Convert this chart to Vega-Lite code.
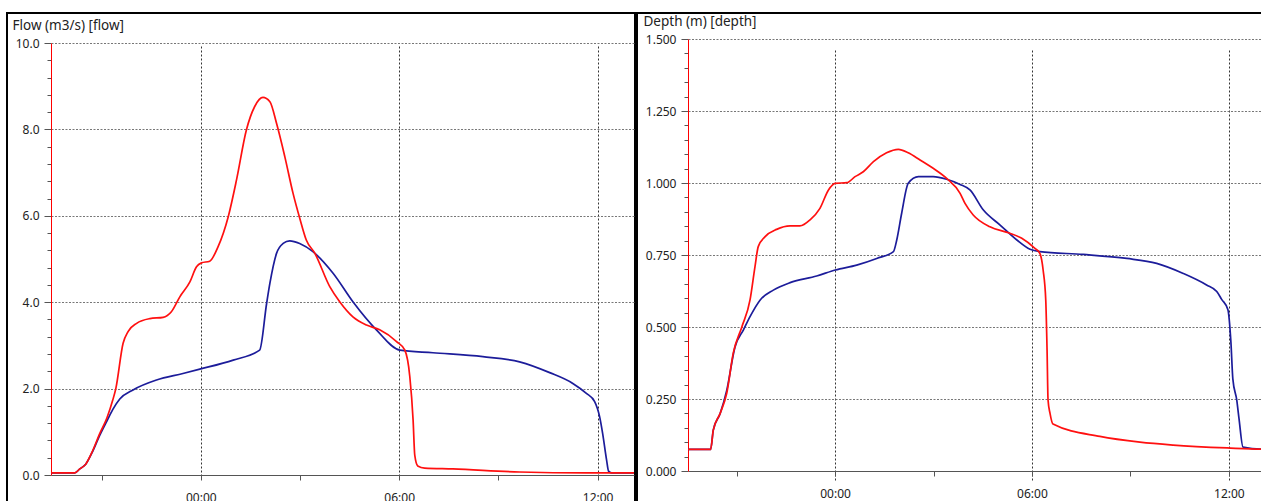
{
  "$schema": "https://vega.github.io/schema/vega-lite/v6.json",
  "padding": {"left": 6, "top": 12, "right": 0, "bottom": 0},
  "background": "white",
  "spacing": 2,
  "bounds": "flush",
  "config": {
    "view": {"stroke": "black", "strokeWidth": 2},
    "axis": {"labelFont": "Noto Sans", "titleFont": "Noto Sans", "labelFontSize": 12, "labelColor": "#222", "titleColor": "#222", "labelOverlap": false, "labelFlush": false}
  },
  "datasets": {
    "flow": [
      {"series": "A", "hour": -4.53, "value": 0.05}, {"series": "A", "hour": -3.81, "value": 0.05}, {"series": "A", "hour": -3.66, "value": 0.14}, {"series": "A", "hour": -3.48, "value": 0.25}, {"series": "A", "hour": -3.3, "value": 0.5}, {"series": "A", "hour": -3.05, "value": 0.93}, {"series": "A", "hour": -2.84, "value": 1.25}, {"series": "A", "hour": -2.66, "value": 1.52}, {"series": "A", "hour": -2.45, "value": 1.76}, {"series": "A", "hour": -2.05, "value": 1.97}, {"series": "A", "hour": -1.34, "value": 2.2}, {"series": "A", "hour": -0.54, "value": 2.35}, {"series": "A", "hour": -0.03, "value": 2.45}, {"series": "A", "hour": 0.98, "value": 2.66}, {"series": "A", "hour": 1.78, "value": 2.89}, {"series": "A", "hour": 1.99, "value": 3.97}, {"series": "A", "hour": 2.09, "value": 4.44}, {"series": "A", "hour": 2.29, "value": 5.13}, {"series": "A", "hour": 2.49, "value": 5.36}, {"series": "A", "hour": 2.69, "value": 5.42}, {"series": "A", "hour": 2.99, "value": 5.36}, {"series": "A", "hour": 3.39, "value": 5.17}, {"series": "A", "hour": 4.0, "value": 4.67}, {"series": "A", "hour": 4.6, "value": 4.01}, {"series": "A", "hour": 5.31, "value": 3.36}, {"series": "A", "hour": 6.02, "value": 2.89}, {"series": "A", "hour": 7.02, "value": 2.83}, {"series": "A", "hour": 8.53, "value": 2.74}, {"series": "A", "hour": 9.64, "value": 2.62}, {"series": "A", "hour": 10.55, "value": 2.37}, {"series": "A", "hour": 11.25, "value": 2.12}, {"series": "A", "hour": 11.66, "value": 1.89}, {"series": "A", "hour": 11.91, "value": 1.7}, {"series": "A", "hour": 12.06, "value": 1.35}, {"series": "A", "hour": 12.15, "value": 0.97}, {"series": "A", "hour": 12.27, "value": 0.35}, {"series": "A", "hour": 12.33, "value": 0.09}, {"series": "A", "hour": 12.42, "value": 0.05}, {"series": "A", "hour": 13.1, "value": 0.05},
      {"series": "B", "hour": -4.53, "value": 0.05}, {"series": "B", "hour": -3.81, "value": 0.05}, {"series": "B", "hour": -3.66, "value": 0.14}, {"series": "B", "hour": -3.48, "value": 0.25}, {"series": "B", "hour": -3.3, "value": 0.51}, {"series": "B", "hour": -3.05, "value": 0.97}, {"series": "B", "hour": -2.84, "value": 1.32}, {"series": "B", "hour": -2.66, "value": 1.74}, {"series": "B", "hour": -2.57, "value": 2.0}, {"series": "B", "hour": -2.35, "value": 3.05}, {"series": "B", "hour": -2.2, "value": 3.32}, {"series": "B", "hour": -1.94, "value": 3.51}, {"series": "B", "hour": -1.54, "value": 3.62}, {"series": "B", "hour": -1.14, "value": 3.65}, {"series": "B", "hour": -0.89, "value": 3.78}, {"series": "B", "hour": -0.63, "value": 4.13}, {"series": "B", "hour": -0.33, "value": 4.47}, {"series": "B", "hour": -0.13, "value": 4.82}, {"series": "B", "hour": 0.02, "value": 4.91}, {"series": "B", "hour": 0.27, "value": 4.95}, {"series": "B", "hour": 0.52, "value": 5.28}, {"series": "B", "hour": 0.83, "value": 5.98}, {"series": "B", "hour": 1.08, "value": 6.83}, {"series": "B", "hour": 1.38, "value": 7.99}, {"series": "B", "hour": 1.63, "value": 8.53}, {"series": "B", "hour": 1.88, "value": 8.74}, {"series": "B", "hour": 2.09, "value": 8.64}, {"series": "B", "hour": 2.29, "value": 8.14}, {"series": "B", "hour": 2.54, "value": 7.37}, {"series": "B", "hour": 2.79, "value": 6.52}, {"series": "B", "hour": 2.99, "value": 5.95}, {"series": "B", "hour": 3.19, "value": 5.44}, {"series": "B", "hour": 3.45, "value": 5.13}, {"series": "B", "hour": 3.9, "value": 4.36}, {"series": "B", "hour": 4.2, "value": 4.01}, {"series": "B", "hour": 4.6, "value": 3.66}, {"series": "B", "hour": 5.01, "value": 3.47}, {"series": "B", "hour": 5.41, "value": 3.36}, {"series": "B", "hour": 5.92, "value": 3.09}, {"series": "B", "hour": 6.17, "value": 2.89}, {"series": "B", "hour": 6.32, "value": 2.28}, {"series": "B", "hour": 6.42, "value": 1.27}, {"series": "B", "hour": 6.47, "value": 0.46}, {"series": "B", "hour": 6.56, "value": 0.21}, {"series": "B", "hour": 6.77, "value": 0.16}, {"series": "B", "hour": 7.62, "value": 0.14}, {"series": "B", "hour": 9.64, "value": 0.07}, {"series": "B", "hour": 11.67, "value": 0.05}, {"series": "B", "hour": 13.1, "value": 0.05}
    ],
    "depth": [
      {"series": "A", "hour": -4.48, "value": 0.075}, {"series": "A", "hour": -3.79, "value": 0.075}, {"series": "A", "hour": -3.71, "value": 0.142}, {"series": "A", "hour": -3.5, "value": 0.2}, {"series": "A", "hour": -3.3, "value": 0.28}, {"series": "A", "hour": -3.05, "value": 0.43}, {"series": "A", "hour": -2.79, "value": 0.49}, {"series": "A", "hour": -2.59, "value": 0.536}, {"series": "A", "hour": -2.28, "value": 0.594}, {"series": "A", "hour": -1.88, "value": 0.628}, {"series": "A", "hour": -1.37, "value": 0.654}, {"series": "A", "hour": -0.56, "value": 0.677}, {"series": "A", "hour": 0.01, "value": 0.698}, {"series": "A", "hour": 0.66, "value": 0.715}, {"series": "A", "hour": 1.27, "value": 0.738}, {"series": "A", "hour": 1.78, "value": 0.762}, {"series": "A", "hour": 1.88, "value": 0.802}, {"series": "A", "hour": 2.03, "value": 0.895}, {"series": "A", "hour": 2.23, "value": 0.999}, {"series": "A", "hour": 2.54, "value": 1.022}, {"series": "A", "hour": 2.99, "value": 1.022}, {"series": "A", "hour": 3.4, "value": 1.013}, {"series": "A", "hour": 3.81, "value": 0.995}, {"series": "A", "hour": 4.11, "value": 0.976}, {"series": "A", "hour": 4.52, "value": 0.906}, {"series": "A", "hour": 5.03, "value": 0.854}, {"series": "A", "hour": 5.54, "value": 0.802}, {"series": "A", "hour": 5.94, "value": 0.77}, {"series": "A", "hour": 6.24, "value": 0.762}, {"series": "A", "hour": 7.56, "value": 0.752}, {"series": "A", "hour": 8.89, "value": 0.738}, {"series": "A", "hour": 9.8, "value": 0.721}, {"series": "A", "hour": 10.61, "value": 0.686}, {"series": "A", "hour": 11.32, "value": 0.646}, {"series": "A", "hour": 11.63, "value": 0.623}, {"series": "A", "hour": 11.78, "value": 0.596}, {"series": "A", "hour": 11.97, "value": 0.56}, {"series": "A", "hour": 12.06, "value": 0.45}, {"series": "A", "hour": 12.12, "value": 0.32}, {"series": "A", "hour": 12.24, "value": 0.246}, {"series": "A", "hour": 12.31, "value": 0.18}, {"series": "A", "hour": 12.43, "value": 0.083}, {"series": "A", "hour": 12.98, "value": 0.076}, {"series": "A", "hour": 13.1, "value": 0.076},
      {"series": "B", "hour": -4.48, "value": 0.075}, {"series": "B", "hour": -3.79, "value": 0.075}, {"series": "B", "hour": -3.71, "value": 0.142}, {"series": "B", "hour": -3.5, "value": 0.2}, {"series": "B", "hour": -3.3, "value": 0.27}, {"series": "B", "hour": -3.1, "value": 0.41}, {"series": "B", "hour": -2.84, "value": 0.5}, {"series": "B", "hour": -2.59, "value": 0.594}, {"series": "B", "hour": -2.44, "value": 0.709}, {"series": "B", "hour": -2.34, "value": 0.779}, {"series": "B", "hour": -2.13, "value": 0.814}, {"series": "B", "hour": -1.78, "value": 0.839}, {"series": "B", "hour": -1.37, "value": 0.851}, {"series": "B", "hour": -1.07, "value": 0.851}, {"series": "B", "hour": -0.76, "value": 0.872}, {"series": "B", "hour": -0.46, "value": 0.912}, {"series": "B", "hour": -0.2, "value": 0.976}, {"series": "B", "hour": 0.0, "value": 0.999}, {"series": "B", "hour": 0.36, "value": 1.001}, {"series": "B", "hour": 0.61, "value": 1.022}, {"series": "B", "hour": 0.86, "value": 1.039}, {"series": "B", "hour": 1.17, "value": 1.074}, {"series": "B", "hour": 1.57, "value": 1.105}, {"series": "B", "hour": 1.93, "value": 1.117}, {"series": "B", "hour": 2.23, "value": 1.105}, {"series": "B", "hour": 2.59, "value": 1.08}, {"series": "B", "hour": 2.99, "value": 1.051}, {"series": "B", "hour": 3.4, "value": 1.016}, {"series": "B", "hour": 3.81, "value": 0.964}, {"series": "B", "hour": 3.96, "value": 0.929}, {"series": "B", "hour": 4.21, "value": 0.889}, {"series": "B", "hour": 4.72, "value": 0.848}, {"series": "B", "hour": 5.28, "value": 0.827}, {"series": "B", "hour": 5.69, "value": 0.808}, {"series": "B", "hour": 6.09, "value": 0.773}, {"series": "B", "hour": 6.24, "value": 0.756}, {"series": "B", "hour": 6.34, "value": 0.698}, {"series": "B", "hour": 6.42, "value": 0.594}, {"series": "B", "hour": 6.46, "value": 0.42}, {"series": "B", "hour": 6.49, "value": 0.246}, {"series": "B", "hour": 6.55, "value": 0.2}, {"series": "B", "hour": 6.64, "value": 0.163}, {"series": "B", "hour": 8.07, "value": 0.12}, {"series": "B", "hour": 9.29, "value": 0.1}, {"series": "B", "hour": 10.3, "value": 0.09}, {"series": "B", "hour": 11.95, "value": 0.08}, {"series": "B", "hour": 12.98, "value": 0.076}, {"series": "B", "hour": 13.1, "value": 0.076}
    ]
  },
  "hconcat": [
    {
      "width": 628,
      "height": 495,
      "data": {"name": "flow"},
      "encoding": {
        "x": {"field": "hour", "type": "quantitative",
          "scale": {"domain": [-4.53, 13.1], "range": [44, 627], "nice": false, "zero": false},
          "axis": {"title": null, "orient": "bottom", "offset": -33, "values": [-3, 0, 3, 6, 9, 12],
            "labelExpr": "datum.value === 0 ? '00:00' : datum.value === 6 ? '06:00' : datum.value === 12 ? '12:00' : ''",
            "tickSize": 5, "labelPadding": 12, "domainColor": "#555", "tickColor": "#555",
            "grid": true, "gridColor": "#333", "gridDash": [2, 2],
            "gridOpacity": {"condition": {"test": "datum.value % 6 === 0", "value": 1}, "value": 0}}},
        "y": {"field": "value", "type": "quantitative",
          "scale": {"domain": [0, 10], "range": [462, 30], "nice": false, "zero": false},
          "axis": {"title": "Flow (m3/s) [flow]", "titleAngle": 0, "titleAlign": "left", "titleBaseline": "alphabetic", "titleX": -39, "titleY": 16, "titleFontWeight": "normal", "titleFontSize": 13.5,
            "orient": "left", "offset": -44,
            "values": [0, 0.4, 0.8, 1.2, 1.6, 2, 2.4, 2.8, 3.2, 3.6, 4, 4.4, 4.8, 5.2, 5.6, 6, 6.4, 6.8, 7.2, 7.6, 8, 8.4, 8.8, 9.2, 9.6, 10],
            "labelExpr": "abs(datum.value - round(datum.value / 2) * 2) < 0.001 ? format(datum.value, '.1f') : ''",
            "tickSize": {"condition": {"test": "abs(datum.value - round(datum.value / 2) * 2) < 0.001", "value": 7}, "value": 4},
            "labelPadding": 5, "domainColor": "#ff0000", "tickColor": "#555",
            "grid": true, "gridColor": "#777", "gridDash": [2, 1.5],
            "gridOpacity": {"condition": {"test": "abs(datum.value - round(datum.value / 2) * 2) < 0.001 && datum.value > 0", "value": 1}, "value": 0}}}
      },
      "layer": [
        {"transform": [{"filter": "datum.series === 'A'"}], "mark": {"type": "line", "color": "#1c1c9a", "strokeWidth": 1.7, "interpolate": "monotone"}},
        {"transform": [{"filter": "datum.series === 'B'"}], "mark": {"type": "line", "color": "#ff1010", "strokeWidth": 1.7, "interpolate": "monotone"}}
      ]
    },
    {
      "width": 630,
      "height": 495,
      "data": {"name": "depth"},
      "encoding": {
        "x": {"field": "hour", "type": "quantitative",
          "scale": {"domain": [-4.48, 13.1], "range": [51, 628], "nice": false, "zero": false},
          "axis": {"title": null, "orient": "bottom", "offset": -37, "values": [-3, 0, 3, 6, 9, 12],
            "labelExpr": "datum.value === 0 ? '00:00' : datum.value === 6 ? '06:00' : datum.value === 12 ? '12:00' : ''",
            "tickSize": 5, "labelPadding": 12, "domainColor": "#555", "tickColor": "#555",
            "grid": true, "gridColor": "#333", "gridDash": [2, 2],
            "gridOpacity": {"condition": {"test": "datum.value % 6 === 0", "value": 1}, "value": 0}}},
        "y": {"field": "value", "type": "quantitative",
          "scale": {"domain": [0, 1.5], "range": [458, 26], "nice": false, "zero": false},
          "axis": {"title": "Depth (m) [depth]", "titleAngle": 0, "titleAlign": "left", "titleBaseline": "alphabetic", "titleX": -45, "titleY": 12, "titleFontWeight": "normal", "titleFontSize": 13.5,
            "orient": "left", "offset": -51,
            "values": [0, 0.05, 0.1, 0.15, 0.2, 0.25, 0.3, 0.35, 0.4, 0.45, 0.5, 0.55, 0.6, 0.65, 0.7, 0.75, 0.8, 0.85, 0.9, 0.95, 1, 1.05, 1.1, 1.15, 1.2, 1.25, 1.3, 1.35, 1.4, 1.45, 1.5],
            "labelExpr": "abs(datum.value * 4 - round(datum.value * 4)) < 0.001 ? format(datum.value, '.3f') : ''",
            "tickSize": {"condition": {"test": "abs(datum.value * 4 - round(datum.value * 4)) < 0.001", "value": 7}, "value": 4},
            "labelPadding": 5, "domainColor": "#ff0000", "tickColor": "#555",
            "grid": true, "gridColor": "#777", "gridDash": [2, 1.5],
            "gridOpacity": {"condition": {"test": "abs(datum.value * 4 - round(datum.value * 4)) < 0.001 && datum.value > 0", "value": 1}, "value": 0}}}
      },
      "layer": [
        {"transform": [{"filter": "datum.series === 'A'"}], "mark": {"type": "line", "color": "#1c1c9a", "strokeWidth": 1.7, "interpolate": "monotone"}},
        {"transform": [{"filter": "datum.series === 'B'"}], "mark": {"type": "line", "color": "#ff1010", "strokeWidth": 1.7, "interpolate": "monotone"}}
      ]
    }
  ]
}
